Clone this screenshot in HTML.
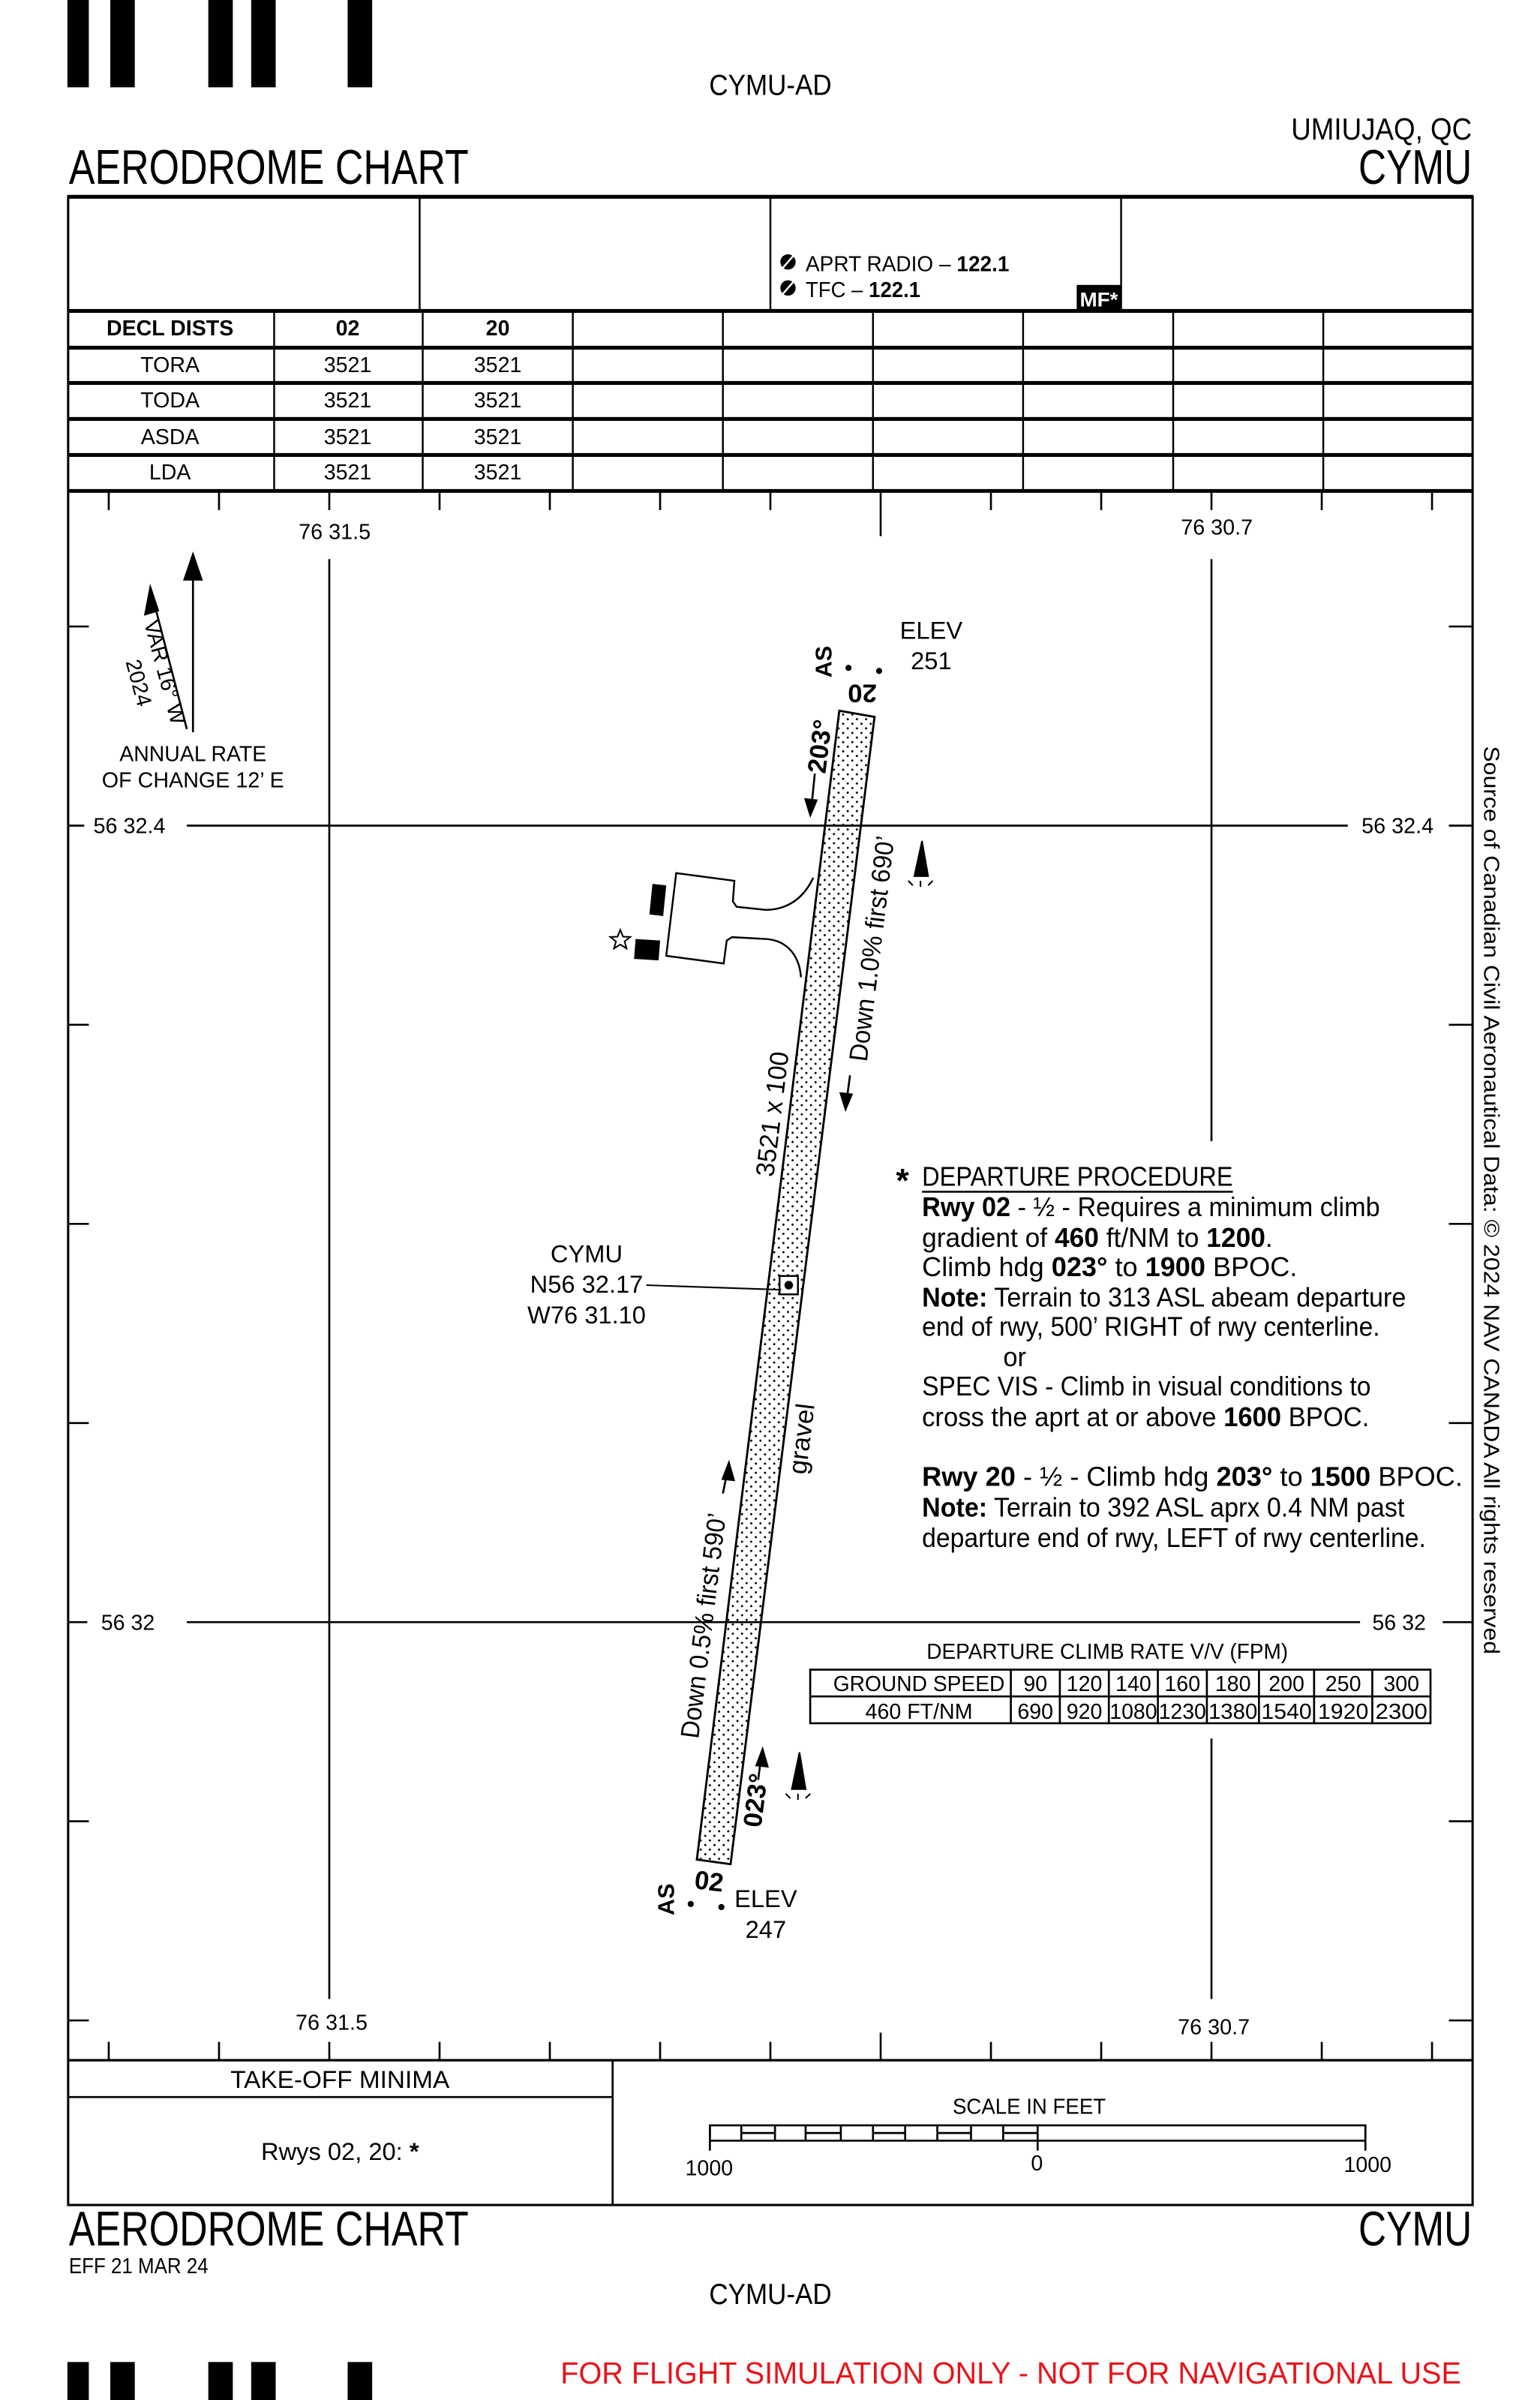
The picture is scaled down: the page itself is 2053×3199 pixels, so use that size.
<!DOCTYPE html>
<html><head><meta charset="utf-8"><style>
html,body{margin:0;padding:0;background:#fff}
svg{display:block}
text{font-family:"Liberation Sans",sans-serif;fill:#000}
.b{font-weight:bold}
</style></head><body>
<svg width="2053" height="3199" viewBox="0 0 1005.5 1566.8" preserveAspectRatio="none" xmlns="http://www.w3.org/2000/svg">
<defs>
<pattern id="dots" width="6" height="6" patternUnits="userSpaceOnUse">
<circle cx="1.5" cy="1.5" r="0.7" fill="#000"/><circle cx="4.5" cy="4.5" r="0.7" fill="#000"/>
</pattern>
</defs>
<rect width="1006" height="1567" fill="#fff"/>
<g fill="#000">
<rect x="44" y="0" width="14" height="57"/><rect x="72" y="0" width="16" height="57"/>
<rect x="136" y="0" width="16" height="57"/><rect x="164" y="0" width="16" height="57"/>
<rect x="227" y="0" width="16" height="57"/>
<rect x="44" y="1542" width="14" height="30"/><rect x="72" y="1542" width="16" height="30"/>
<rect x="136" y="1542" width="16" height="30"/><rect x="164" y="1542" width="16" height="30"/>
<rect x="227" y="1542" width="16" height="30"/>
</g>
<text x="463" y="62" font-size="19" textLength="80" lengthAdjust="spacingAndGlyphs">CYMU-AD</text>
<text x="843" y="91" font-size="20" textLength="118" lengthAdjust="spacingAndGlyphs">UMIUJAQ, QC</text>
<text x="45" y="120" font-size="32" textLength="261" lengthAdjust="spacingAndGlyphs">AERODROME CHART</text>
<text x="887" y="120" font-size="32" textLength="74" lengthAdjust="spacingAndGlyphs">CYMU</text>

<g stroke="#000" fill="none">
<rect x="44.5" y="128.5" width="917" height="1311" stroke-width="1.5"/>
<line x1="44" y1="128.5" x2="962" y2="128.5" stroke-width="2.5"/>
<line x1="274" y1="128" x2="274" y2="203" stroke-width="1.2"/>
<line x1="503" y1="128" x2="503" y2="203" stroke-width="1.2"/>
<line x1="732" y1="128" x2="732" y2="203" stroke-width="1.2"/>
<line x1="44" y1="203" x2="962" y2="203" stroke-width="2.5"/>
<line x1="44" y1="227" x2="962" y2="227" stroke-width="2.5"/>
<line x1="44" y1="250" x2="962" y2="250" stroke-width="2.5"/>
<line x1="44" y1="273.5" x2="962" y2="273.5" stroke-width="2.5"/>
<line x1="44" y1="297" x2="962" y2="297" stroke-width="2.5"/>
<line x1="44" y1="320.5" x2="962" y2="320.5" stroke-width="2.5"/>
<g stroke-width="1.2">
<line x1="179" y1="203" x2="179" y2="320"/><line x1="276" y1="203" x2="276" y2="320"/>
<line x1="374" y1="203" x2="374" y2="320"/><line x1="472" y1="203" x2="472" y2="320"/>
<line x1="570" y1="203" x2="570" y2="320"/><line x1="668" y1="203" x2="668" y2="320"/>
<line x1="766" y1="203" x2="766" y2="320"/><line x1="864" y1="203" x2="864" y2="320"/>
</g>
</g>
<g>
<circle cx="514.5" cy="171" r="5" fill="#000"/><line x1="511" y1="175" x2="518" y2="167" stroke="#fff" stroke-width="1.2"/>
<circle cx="514.5" cy="188" r="5" fill="#000"/><line x1="511" y1="192" x2="518" y2="184" stroke="#fff" stroke-width="1.2"/>
<text x="526" y="177" font-size="14" textLength="133" lengthAdjust="spacingAndGlyphs">APRT RADIO – <tspan class="b">122.1</tspan></text>
<text x="526" y="194" font-size="14" textLength="75" lengthAdjust="spacingAndGlyphs">TFC – <tspan class="b">122.1</tspan></text>
<rect x="703" y="186" width="29" height="17" fill="#000"/>
<text x="705" y="200" font-size="13" class="b" style="fill:#fff" textLength="25" lengthAdjust="spacingAndGlyphs">MF*</text>
</g>
<g font-size="14" text-anchor="middle">
<text x="111" y="219" class="b">DECL DISTS</text><text x="227" y="219" class="b">02</text><text x="325" y="219" class="b">20</text>
<text x="111" y="243">TORA</text><text x="227" y="243">3521</text><text x="325" y="243">3521</text>
<text x="111" y="266">TODA</text><text x="227" y="266">3521</text><text x="325" y="266">3521</text>
<text x="111" y="290">ASDA</text><text x="227" y="290">3521</text><text x="325" y="290">3521</text>
<text x="111" y="313">LDA</text><text x="227" y="313">3521</text><text x="325" y="313">3521</text>
</g>
<g stroke="#000" stroke-width="1.3">
<line x1="71" y1="321" x2="71" y2="333"/><line x1="143" y1="321" x2="143" y2="333"/><line x1="215" y1="321" x2="215" y2="333"/>
<line x1="287" y1="321" x2="287" y2="333"/><line x1="359" y1="321" x2="359" y2="333"/><line x1="431" y1="321" x2="431" y2="333"/>
<line x1="503" y1="321" x2="503" y2="333"/><line x1="575" y1="321" x2="575" y2="350"/><line x1="647" y1="321" x2="647" y2="333"/>
<line x1="719" y1="321" x2="719" y2="333"/><line x1="791" y1="321" x2="791" y2="333"/><line x1="863" y1="321" x2="863" y2="333"/>
<line x1="935" y1="321" x2="935" y2="333"/>
<line x1="71" y1="1333" x2="71" y2="1345"/><line x1="143" y1="1333" x2="143" y2="1345"/><line x1="215" y1="1333" x2="215" y2="1345"/>
<line x1="287" y1="1333" x2="287" y2="1345"/><line x1="359" y1="1333" x2="359" y2="1345"/><line x1="431" y1="1333" x2="431" y2="1345"/>
<line x1="503" y1="1333" x2="503" y2="1345"/><line x1="575" y1="1327" x2="575" y2="1345"/><line x1="647" y1="1333" x2="647" y2="1345"/>
<line x1="719" y1="1333" x2="719" y2="1345"/><line x1="791" y1="1333" x2="791" y2="1345"/><line x1="863" y1="1333" x2="863" y2="1345"/>
<line x1="935" y1="1333" x2="935" y2="1345"/>
<line x1="44" y1="409" x2="58" y2="409"/><line x1="44" y1="669" x2="58" y2="669"/><line x1="44" y1="799" x2="58" y2="799"/>
<line x1="44" y1="929" x2="58" y2="929"/><line x1="44" y1="1189" x2="58" y2="1189"/><line x1="44" y1="1319" x2="58" y2="1319"/>
<line x1="946" y1="409" x2="962" y2="409"/><line x1="946" y1="669" x2="962" y2="669"/><line x1="946" y1="799" x2="962" y2="799"/>
<line x1="946" y1="929" x2="962" y2="929"/><line x1="946" y1="1189" x2="962" y2="1189"/><line x1="946" y1="1319" x2="962" y2="1319"/>
<line x1="215" y1="365" x2="215" y2="1305"/>
<line x1="791" y1="365" x2="791" y2="745"/><line x1="791" y1="1135" x2="791" y2="1305"/>
<line x1="44" y1="539" x2="55" y2="539"/><line x1="122" y1="539" x2="880" y2="539"/><line x1="946" y1="539" x2="962" y2="539"/>
<line x1="44" y1="1059" x2="57" y2="1059"/><line x1="122" y1="1059" x2="888" y2="1059"/><line x1="942" y1="1059" x2="962" y2="1059"/>
<line x1="44" y1="1345" x2="962" y2="1345" stroke-width="1.6"/>
<line x1="400" y1="1345" x2="400" y2="1440"/>
<line x1="44" y1="1369" x2="400" y2="1369"/>
</g>
<g font-size="14">
<text x="195" y="352" textLength="47" lengthAdjust="spacingAndGlyphs">76 31.5</text>
<text x="193" y="1325" textLength="47" lengthAdjust="spacingAndGlyphs">76 31.5</text>
<text x="771" y="349" textLength="47" lengthAdjust="spacingAndGlyphs">76 30.7</text>
<text x="769" y="1328" textLength="47" lengthAdjust="spacingAndGlyphs">76 30.7</text>
<text x="61" y="544" textLength="47" lengthAdjust="spacingAndGlyphs">56 32.4</text>
<text x="889" y="544" textLength="47" lengthAdjust="spacingAndGlyphs">56 32.4</text>
<text x="66" y="1064" textLength="35" lengthAdjust="spacingAndGlyphs">56 32</text>
<text x="896" y="1064" textLength="35" lengthAdjust="spacingAndGlyphs">56 32</text>
</g>
<g stroke="#000" stroke-width="1.3" fill="#000">
<line x1="126" y1="376" x2="126" y2="478"/>
<polygon points="126,360 119.5,379 132.5,379" stroke="none"/>
<line x1="101" y1="395" x2="122" y2="476"/>
<polygon points="98,381 94,402 104,399" stroke="none"/>
</g>
<text transform="translate(103,440) rotate(75)" font-size="14" text-anchor="middle">VAR 16° W</text>
<text transform="translate(86,447) rotate(75)" font-size="14" text-anchor="middle">2024</text>
<text x="126" y="497" font-size="14" text-anchor="middle" textLength="96" lengthAdjust="spacingAndGlyphs">ANNUAL RATE</text>
<text x="126" y="514" font-size="14" text-anchor="middle" textLength="119" lengthAdjust="spacingAndGlyphs">OF CHANGE 12’ E</text>
<g stroke="#000" stroke-width="1.2" fill="#fff">
<path d="M531,573 C523,590 510,594 500,594 L481,592 L478.5,588.5 L479.5,575 L441.5,570 L435,624 L472.5,629 L474.5,614 L478,611.8 L500,613 C515,614 522,625 523,638"/>
</g>
<g fill="#000">
<polygon points="426,577 435,578 433,598 424,597"/>
<polygon points="415,613 431,614 430,627 414,626"/>
</g>
<polygon points="405,607 406.8,611.5 411.5,611.7 407.8,614.6 409.1,619.2 405,616.6 400.9,619.2 402.2,614.6 398.5,611.7 403.2,611.5" fill="#fff" stroke="#000" stroke-width="1"/>
<polygon points="548,464 571,468 477,1217 455,1214" fill="url(#dots)" stroke="#000" stroke-width="1.4"/>
<rect x="509" y="833" width="12" height="12" fill="#fff" stroke="#000" stroke-width="1.2"/>
<circle cx="515" cy="839" r="2.8" fill="#000"/>
<line x1="422" y1="839" x2="510" y2="842" stroke="#000" stroke-width="1"/>
<g font-size="16" text-anchor="middle">
<text x="383" y="824">CYMU</text><text x="383" y="844">N56 32.17</text><text x="383" y="864">W76 31.10</text>
<text x="608" y="417">ELEV</text><text x="608" y="437">251</text>
<text x="500" y="1245">ELEV</text><text x="500" y="1265">247</text>
</g>
<g fill="#000">
<circle cx="554" cy="436" r="2"/><circle cx="574" cy="438" r="2"/>
<circle cx="451" cy="1243" r="2"/><circle cx="471" cy="1245" r="2"/>
</g>
<text transform="translate(543,432) rotate(-90)" font-size="15" class="b" text-anchor="middle">AS</text>
<text transform="translate(440,1240) rotate(-90)" font-size="15" class="b" text-anchor="middle">AS</text>
<text transform="translate(563,447) rotate(180)" font-size="17" class="b" text-anchor="middle">20</text>
<text x="463" y="1234" font-size="17" class="b" text-anchor="middle" transform="rotate(7 463 1228)">02</text>
<g font-size="17" text-anchor="middle">
<text transform="translate(541,488) rotate(-83)" class="b">203°</text>
<text transform="translate(499,1176) rotate(-83)" class="b">023°</text>
<text transform="translate(575,620) rotate(-83)" textLength="148" lengthAdjust="spacingAndGlyphs">Down 1.0% first 690’</text>
<text transform="translate(465,1062) rotate(-83)" textLength="148" lengthAdjust="spacingAndGlyphs">Down 0.5% first 590’</text>
<text transform="translate(510,728) rotate(-83)" textLength="82" lengthAdjust="spacingAndGlyphs">3521 x 100</text>
<text transform="translate(529,940) rotate(-83)">gravel</text>
</g>
<g stroke="#000" stroke-width="1.3" fill="#000">
<line x1="532" y1="505" x2="530" y2="525"/><polygon points="529,534 525,521 534,522" stroke="none"/>
<line x1="555" y1="702" x2="553" y2="717"/><polygon points="552,726 548,713 557,714" stroke="none"/>
<line x1="472" y1="975" x2="475" y2="960"/><polygon points="476,953 471,966 480,967" stroke="none"/>
<line x1="495" y1="1162" x2="497" y2="1147"/><polygon points="498,1140 493,1153 502,1154" stroke="none"/>
</g>
<g fill="#000" stroke="#000" stroke-width="1">
<polygon points="602,549 597,572 606,572"/>
<line x1="596" y1="578" x2="593" y2="575"/><line x1="601" y1="579" x2="601" y2="575"/><line x1="606" y1="578" x2="609" y2="575"/>
<polygon points="522,1144 517,1168 526,1168"/>
<line x1="516" y1="1174" x2="513" y2="1171"/><line x1="521" y1="1175" x2="521" y2="1171"/><line x1="526" y1="1174" x2="529" y2="1171"/>
</g>
<text x="585" y="778" font-size="22" class="b">*</text>
<g font-size="17.5">
<text x="602" y="774" textLength="203" lengthAdjust="spacingAndGlyphs">DEPARTURE PROCEDURE</text>
<line x1="602" y1="778" x2="805" y2="778" stroke="#000" stroke-width="1.2"/>
<text x="602" y="794" textLength="299" lengthAdjust="spacingAndGlyphs"><tspan class="b">Rwy 02</tspan> - ½ - Requires a minimum climb</text>
<text x="602" y="814" textLength="229" lengthAdjust="spacingAndGlyphs">gradient of <tspan class="b">460</tspan> ft/NM to  <tspan class="b">1200</tspan>.</text>
<text x="602" y="833" textLength="245" lengthAdjust="spacingAndGlyphs">Climb hdg  <tspan class="b">023°</tspan> to  <tspan class="b">1900</tspan> BPOC.</text>
<text x="602" y="853" textLength="316" lengthAdjust="spacingAndGlyphs"><tspan class="b">Note:</tspan> Terrain to 313 ASL abeam departure</text>
<text x="602" y="872" textLength="299" lengthAdjust="spacingAndGlyphs">end of rwy, 500’ RIGHT of rwy centerline.</text>
<text x="655" y="892" textLength="15" lengthAdjust="spacingAndGlyphs">or</text>
<text x="602" y="911" textLength="293" lengthAdjust="spacingAndGlyphs">SPEC VIS - Climb in visual conditions to</text>
<text x="602" y="931" textLength="292" lengthAdjust="spacingAndGlyphs">cross the aprt at or above  <tspan class="b">1600</tspan> BPOC.</text>
<text x="602" y="970" textLength="353" lengthAdjust="spacingAndGlyphs"><tspan class="b">Rwy 20</tspan> - ½ - Climb hdg  <tspan class="b">203°</tspan> to  <tspan class="b">1500</tspan>  BPOC.</text>
<text x="602" y="990" textLength="315" lengthAdjust="spacingAndGlyphs"><tspan class="b">Note:</tspan> Terrain to 392 ASL aprx 0.4 NM past</text>
<text x="602" y="1010" textLength="329" lengthAdjust="spacingAndGlyphs">departure end of rwy, LEFT of rwy centerline.</text>
</g>
<text x="723" y="1083" font-size="14" text-anchor="middle" textLength="236" lengthAdjust="spacingAndGlyphs">DEPARTURE CLIMB RATE V/V (FPM)</text>
<g stroke="#000" stroke-width="1.3" fill="none">
<rect x="529" y="1090" width="405" height="35"/>
<line x1="529" y1="1107.5" x2="934" y2="1107.5"/>
<line x1="660" y1="1090" x2="660" y2="1125"/><line x1="692" y1="1090" x2="692" y2="1125"/>
<line x1="724" y1="1090" x2="724" y2="1125"/><line x1="756" y1="1090" x2="756" y2="1125"/>
<line x1="788" y1="1090" x2="788" y2="1125"/><line x1="822" y1="1090" x2="822" y2="1125"/>
<line x1="858" y1="1090" x2="858" y2="1125"/><line x1="896" y1="1090" x2="896" y2="1125"/>
</g>
<g font-size="14" text-anchor="middle">
<text x="600" y="1104" textLength="112" lengthAdjust="spacingAndGlyphs">GROUND SPEED</text>
<text x="676" y="1104">90</text><text x="708" y="1104">120</text><text x="740" y="1104">140</text><text x="772" y="1104">160</text>
<text x="805" y="1104">180</text><text x="840" y="1104">200</text><text x="877" y="1104">250</text><text x="915" y="1104">300</text>
<text x="600" y="1122" textLength="70" lengthAdjust="spacingAndGlyphs">460 FT/NM</text>
<text x="676" y="1122">690</text><text x="708" y="1122">920</text>
<text x="740" y="1122" textLength="31" lengthAdjust="spacingAndGlyphs">1080</text><text x="772" y="1122" textLength="31" lengthAdjust="spacingAndGlyphs">1230</text>
<text x="805" y="1122" textLength="32" lengthAdjust="spacingAndGlyphs">1380</text><text x="840" y="1122" textLength="33" lengthAdjust="spacingAndGlyphs">1540</text>
<text x="877" y="1122" textLength="33" lengthAdjust="spacingAndGlyphs">1920</text><text x="915" y="1122" textLength="34" lengthAdjust="spacingAndGlyphs">2300</text>
</g>
<text transform="translate(969,487) rotate(90)" font-size="14" textLength="593" lengthAdjust="spacingAndGlyphs">Source of Canadian Civil Aeronautical Data: © 2024 NAV CANADA All rights reserved</text>
<text x="222" y="1363" font-size="16" text-anchor="middle" textLength="143" lengthAdjust="spacingAndGlyphs">TAKE-OFF MINIMA</text>
<text x="222" y="1410" font-size="16" text-anchor="middle">Rwys 02, 20: <tspan class="b">*</tspan></text>
<text x="672" y="1380" font-size="14" text-anchor="middle" textLength="100" lengthAdjust="spacingAndGlyphs">SCALE IN FEET</text>
<g stroke="#000" fill="none" stroke-width="1.3">
<rect x="463.5" y="1387.5" width="428" height="10"/>
<line x1="463.5" y1="1387" x2="463.5" y2="1404"/><line x1="677.5" y1="1387" x2="677.5" y2="1404"/><line x1="891.5" y1="1387" x2="891.5" y2="1404"/>
<line x1="484" y1="1387" x2="484" y2="1398"/><line x1="506" y1="1387" x2="506" y2="1398"/>
<line x1="526" y1="1387" x2="526" y2="1398"/><line x1="549" y1="1387" x2="549" y2="1398"/>
<line x1="570" y1="1387" x2="570" y2="1398"/><line x1="591" y1="1387" x2="591" y2="1398"/>
<line x1="612" y1="1387" x2="612" y2="1398"/><line x1="634" y1="1387" x2="634" y2="1398"/>
<line x1="655" y1="1387" x2="655" y2="1398"/>
<line x1="484" y1="1392.5" x2="506" y2="1392.5"/><line x1="526" y1="1392.5" x2="549" y2="1392.5"/>
<line x1="570" y1="1392.5" x2="591" y2="1392.5"/><line x1="612" y1="1392.5" x2="634" y2="1392.5"/>
<line x1="655" y1="1392.5" x2="677" y2="1392.5"/>
</g>
<g font-size="14" text-anchor="middle">
<text x="463" y="1420">1000</text><text x="677" y="1417">0</text><text x="893" y="1418">1000</text>
</g>
<text x="45" y="1466" font-size="32" textLength="261" lengthAdjust="spacingAndGlyphs">AERODROME CHART</text>
<text x="887" y="1466" font-size="32" textLength="74" lengthAdjust="spacingAndGlyphs">CYMU</text>
<text x="45" y="1484" font-size="14" textLength="91" lengthAdjust="spacingAndGlyphs">EFF 21 MAR 24</text>
<text x="463" y="1504" font-size="19" textLength="80" lengthAdjust="spacingAndGlyphs">CYMU-AD</text>
<text x="366" y="1556" font-size="20" style="fill:#e8141a" textLength="588" lengthAdjust="spacingAndGlyphs">FOR FLIGHT SIMULATION ONLY - NOT FOR NAVIGATIONAL USE</text>
</svg>
</body></html>
